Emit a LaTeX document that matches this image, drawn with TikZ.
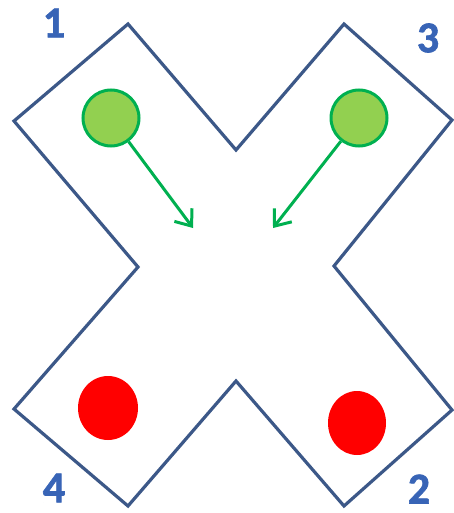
\documentclass[tikz,border=0pt]{standalone}
\usepackage{fontspec}
\newfontfamily\numfont{Carlito Bold}[FakeBold=1.5]
\usetikzlibrary{arrows.meta,shapes.geometric}
\definecolor{xblue}{RGB}{60,88,136}
\definecolor{lgreen}{RGB}{146,208,80}
\definecolor{dgreen}{RGB}{0,176,80}
\definecolor{lblue}{RGB}{56,100,182}
\begin{document}
\begin{tikzpicture}[x=1pt,y=-1pt,
  outline/.style={draw=xblue,line width=3.2pt,line join=miter},
  gball/.style={circle,draw=dgreen,fill=lgreen,line width=3pt,minimum size=56pt,inner sep=0pt},
  garrow/.style={draw=dgreen,line width=3pt,-{Straight Barb[length=14pt,width=22pt]}},
  numlabel/.style={text=lblue,font=\numfont\fontsize{44}{44}\selectfont,inner sep=0pt}]
\useasboundingbox (0,0) rectangle (454,513);
\draw[outline] (128,24) -- (236,150) -- (344,24) -- (452,120) -- (334,266) -- (452,410) -- (344,506) -- (236,381) -- (128,506) -- (14,409) -- (138,267) -- (14,121) -- cycle;
\node[gball] (g1) at (111,118) {};
\node[gball] (g3) at (359,118) {};
\coordinate (t1) at (193,228);
\coordinate (t3) at (273,228);
\draw[garrow] (g1) -- (t1);
\draw[garrow] (g3) -- (t3);
\node[ellipse,fill=red,minimum width=60pt,minimum height=64pt,inner sep=0pt] (r4) at (108,408) {};
\node[ellipse,fill=red,minimum width=58pt,minimum height=64pt,inner sep=0pt] (r2) at (357,423) {};
\node[numlabel] (n1) at (54,23) {1};
\node[numlabel] (n3) at (428,38) {3};
\node[numlabel] (n4) at (54,488) {4};
\node[numlabel] (n2) at (419,489) {2};
\end{tikzpicture}
\end{document}
